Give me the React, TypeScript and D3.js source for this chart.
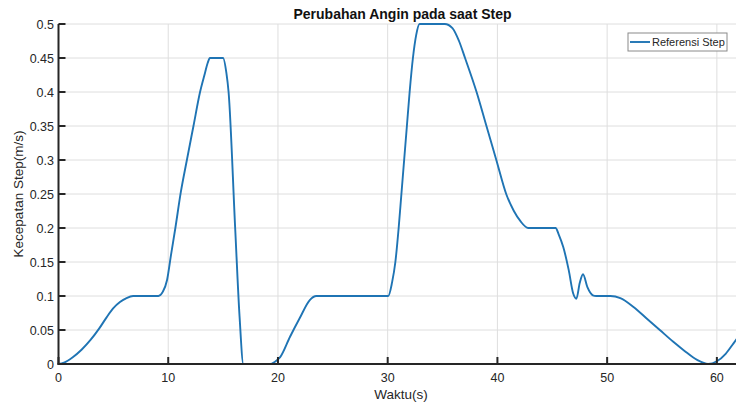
import React from "react";
import * as d3 from "d3";

// Wind speed reference signal (time in seconds, speed in m/s)
const timeS = [
  0, 0.5, 1.3, 2.1, 2.9, 3.7, 4.4, 5.0, 5.6, 6.2, 6.8, 9.1, 9.5, 9.9, 10.25, 10.65,
  11.15, 11.7, 12.3, 12.9, 13.35, 13.6, 13.8, 15.0, 15.3, 15.5, 16.1, 16.5, 16.85,
  19.3, 19.7, 20.2, 21.1, 22.0, 22.9, 23.5, 30.05, 30.4, 30.7, 31.0, 31.25, 31.5,
  31.75, 32.0, 32.3, 32.6, 32.9, 35.2, 35.9, 36.5, 37.05, 38.1, 39.0, 39.9,
  40.8, 41.5, 42.1, 42.8, 45.3, 45.6, 46.0, 46.5, 46.9, 47.2, 47.5, 47.8, 48.2,
  48.7, 49.0, 50.3, 51.2, 52.4, 53.6, 54.8, 56.0, 57.0, 58.2, 59.2, 60.0, 60.8,
  61.5, 62.7,
];
const speedMs = [
  0, 0.002, 0.01, 0.021, 0.035, 0.052, 0.069, 0.082, 0.091, 0.097, 0.1, 0.1,
  0.106, 0.124, 0.16, 0.2, 0.253, 0.3, 0.35, 0.4, 0.428, 0.443, 0.45, 0.45,
  0.428, 0.4, 0.2, 0.07, 0, 0, 0.003, 0.01, 0.04, 0.068, 0.094, 0.1, 0.1, 0.12,
  0.15, 0.2, 0.25, 0.3, 0.35, 0.4, 0.45, 0.484, 0.5, 0.5, 0.494, 0.475, 0.45,
  0.4, 0.35, 0.3, 0.25, 0.225, 0.21, 0.2, 0.2, 0.19, 0.172, 0.138, 0.104, 0.096,
  0.119, 0.132, 0.113, 0.101, 0.1, 0.1, 0.097, 0.084, 0.067, 0.05, 0.033, 0.02,
  0.006, 0, 0.004, 0.015, 0.03, 0.058,
];
const xTicks = [0, 10, 20, 30, 40, 50, 60];
const yTicks = [0, 0.05, 0.1, 0.15, 0.2, 0.25, 0.3, 0.35, 0.4, 0.45, 0.5];

const titleText = "Perubahan Angin pada saat Step";
const xLabel = "Waktu(s)";
const yLabel = "Kecepatan Step(m/s)";
const legendText = "Referensi Step";

const W = 736;
const H = 407;
const left = 58.5;
const right = 746.5;
const top = 24;
const bottom = 364;
const font = "'Liberation Sans', Arial, Helvetica, sans-serif";
const axisColor = "#262626";
const lineColor = "#1f74b4";

export default function App() {
  const x = d3.scaleLinear().domain([0, 62.7]).range([left, right]);
  const y = d3.scaleLinear().domain([0, 0.5]).range([bottom, top]);
  const pts: [number, number][] = timeS.map((t, i) => [t, speedMs[i]]);
  const path = d3
    .line<[number, number]>()
    .x((d) => x(d[0]))
    .y((d) => y(d[1]))
    .curve(d3.curveMonotoneX)(pts) as string;

  const fmt = (v: number) => String(+v.toFixed(2));

  return (
    <svg
      width={W}
      height={H}
      style={{ position: "absolute", left: 0, top: 0, background: "#fff" }}
      fontFamily={font}
    >
      <rect width={W} height={H} fill="#fff" />
      {/* grid */}
      {xTicks.map((t) => (
        <line key={"gx" + t} x1={x(t)} x2={x(t)} y1={top} y2={bottom} stroke="#dedede" strokeWidth={1} />
      ))}
      {yTicks.map((t) => (
        <line key={"gy" + t} x1={left} x2={right} y1={y(t)} y2={y(t)} stroke="#dedede" strokeWidth={1} />
      ))}
      {/* data line */}
      <path d={path} fill="none" stroke={lineColor} strokeWidth={1.9} strokeLinejoin="round" />
      {/* axes */}
      <line x1={left} x2={left} y1={top} y2={bottom + 1} stroke={axisColor} strokeWidth={2} />
      <line x1={left - 1} x2={right} y1={bottom} y2={bottom} stroke={axisColor} strokeWidth={2} />
      {xTicks.map((t) => (
        <g key={"tx" + t}>
          <line x1={x(t)} x2={x(t)} y1={bottom} y2={bottom - 7} stroke={axisColor} strokeWidth={2} />
          <text x={x(t)} y={382} textAnchor="middle" fontSize={12.5} fill={axisColor}>
            {fmt(t)}
          </text>
        </g>
      ))}
      {yTicks.map((t) => (
        <g key={"ty" + t}>
          <line x1={left} x2={left + 7} y1={y(t)} y2={y(t)} stroke={axisColor} strokeWidth={2} />
          <text x={54} y={y(t)} dy="0.36em" textAnchor="end" fontSize={12.5} fill={axisColor}>
            {fmt(t)}
          </text>
        </g>
      ))}
      {/* labels */}
      <text x={402.5} y={19} textAnchor="middle" fontSize={14} fontWeight="bold" fill="#111">
        {titleText}
      </text>
      <text x={401} y={399} textAnchor="middle" fontSize={13.5} fill={axisColor}>
        {xLabel}
      </text>
      <text
        transform={`translate(23,${(top + bottom) / 2}) rotate(-90)`}
        textAnchor="middle"
        fontSize={13.5}
        fill={axisColor}
      >
        {yLabel}
      </text>
      {/* legend */}
      <rect x={628} y={33} width={99} height={18} fill="#fff" stroke="#8a8a8a" strokeWidth={1} />
      <line x1={630} x2={650} y1={42} y2={42} stroke={lineColor} strokeWidth={1.9} />
      <text x={652} y={46} fontSize={11} fill={axisColor}>
        {legendText}
      </text>
    </svg>
  );
}
